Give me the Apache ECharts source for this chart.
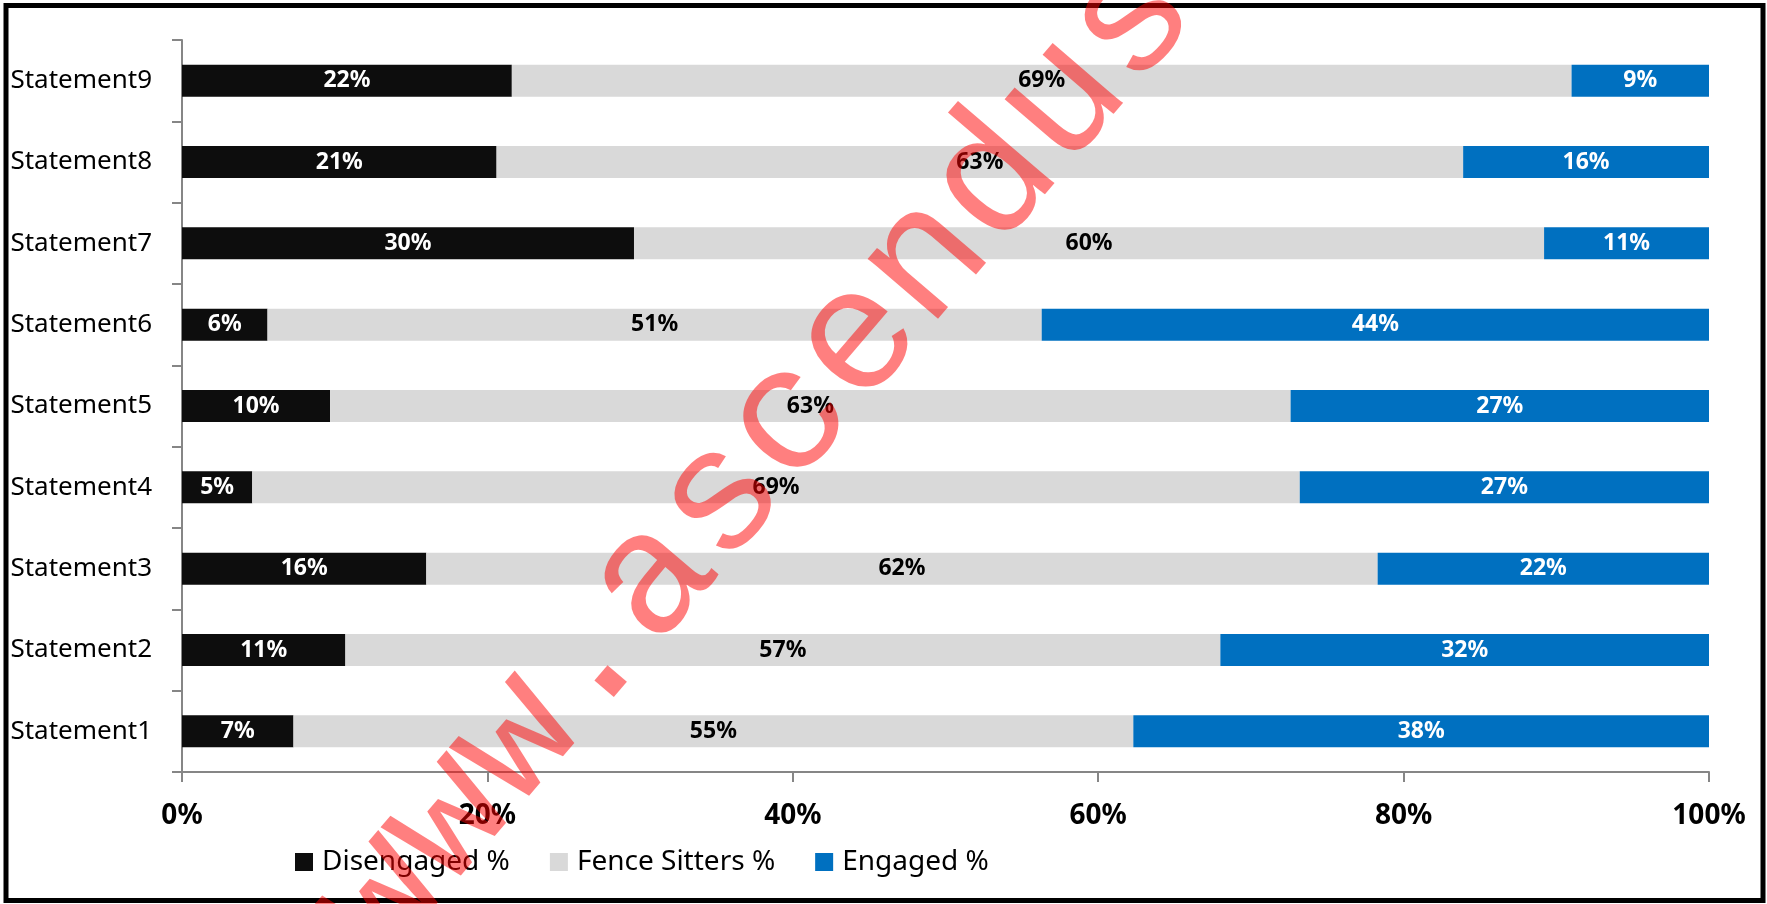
<!DOCTYPE html>
<html>
<head>
<meta charset="utf-8">
<script src="https://cdn.jsdelivr.net/npm/echarts@6/dist/echarts.min.js"></script>
<style>
  html, body { margin: 0; padding: 0; background: #fff; }
  #chart { width: 1767px; height: 904px; }
</style>
</head>
<body>
<div id="chart"></div>
<script>
// 数据
var categories = ['Statement1', 'Statement2', 'Statement3', 'Statement4', 'Statement5',
  'Statement6', 'Statement7', 'Statement8', 'Statement9'];
var disengaged = [7.3, 10.7, 16.0, 4.6, 9.7, 5.6, 29.6, 20.6, 21.6];
var fenceSitters = [55.0, 57.3, 62.3, 68.6, 62.9, 50.7, 59.6, 63.3, 69.4];
var engaged = [37.7, 32.0, 21.7, 26.8, 27.4, 43.7, 10.8, 16.1, 9.0];
var seriesNames = ['Disengaged %', 'Fence Sitters %', 'Engaged %'];
var xTicks = [0, 20, 40, 60, 80, 100];

var font = '"Noto Sans", "Open Sans", sans-serif';

function barLabel(color) {
  return {
    show: true,
    position: 'inside',
    color: color,
    fontFamily: font,
    fontWeight: 'bold',
    fontSize: 23,
    formatter: function (p) {
      return Math.round(p.value) + '%';
    }
  };
}

var myChart = echarts.init(document.getElementById('chart'));

var option = {
  backgroundColor: '#fff',
  animation: false,
  grid: {
    left: 182,
    right: 58,
    top: 40,
    bottom: 132,
    containLabel: false
  },
  legend: {
    data: seriesNames,
    left: 290,
    top: 843,
    icon: 'rect',
    itemWidth: 18,
    itemHeight: 18,
    itemGap: 40,
    textStyle: {
      color: '#000',
      fontFamily: font,
      fontSize: 28,
      padding: [0, 0, 0, 4]
    }
  },
  xAxis: {
    type: 'value',
    min: xTicks[0],
    max: xTicks[xTicks.length - 1],
    interval: 20,
    splitLine: { show: false },
    axisLine: { show: true, lineStyle: { color: '#868686', width: 2 } },
    axisTick: { show: true, length: 10, lineStyle: { color: '#868686', width: 2 } },
    axisLabel: {
      margin: 30,
      color: '#000',
      fontFamily: font,
      fontWeight: 'bold',
      fontSize: 28,
      formatter: '{value}%'
    }
  },
  yAxis: {
    type: 'category',
    data: categories,
    axisLine: { show: true, lineStyle: { color: '#868686', width: 2 } },
    axisTick: { show: true, length: 10, lineStyle: { color: '#868686', width: 2 } },
    axisLabel: {
      margin: 30,
      color: '#000',
      fontFamily: font,
      fontSize: 26
    }
  },
  series: [
    {
      name: seriesNames[0],
      type: 'bar',
      stack: 'all',
      barWidth: 32,
      data: disengaged,
      itemStyle: { color: '#0d0d0d' },
      label: barLabel('#fff')
    },
    {
      name: seriesNames[1],
      type: 'bar',
      stack: 'all',
      barWidth: 32,
      data: fenceSitters,
      itemStyle: { color: '#d9d9d9' },
      label: barLabel('#000')
    },
    {
      name: seriesNames[2],
      type: 'bar',
      stack: 'all',
      barWidth: 32,
      data: engaged,
      itemStyle: { color: '#0070c0' },
      label: barLabel('#fff')
    }
  ],
  graphic: [
    // 外框
    {
      type: 'rect',
      z: 100,
      shape: { x: 6, y: 5.5, width: 1757, height: 895 },
      style: { fill: 'none', stroke: '#000', lineWidth: 5 }
    },
    // 水印
    {
      type: 'text',
      z: 101,
      x: 756,
      y: 460,
      rotation: 49.4 * Math.PI / 180,
      style: {
        text: 'www.ascendus',
        font: '175px "Liberation Mono", monospace',
        fill: 'rgba(255, 0, 0, 0.5)',
        align: 'center',
        verticalAlign: 'middle'
      }
    }
  ]
};

myChart.setOption(option);
</script>
</body>
</html>
